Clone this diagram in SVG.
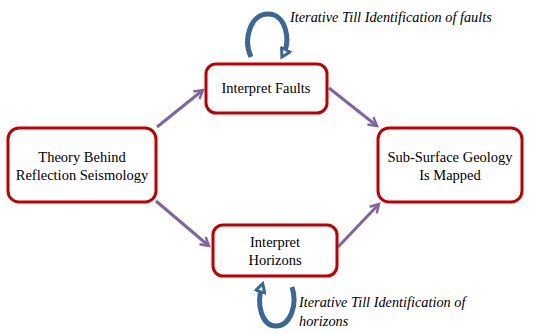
<svg xmlns="http://www.w3.org/2000/svg" width="533" height="333" viewBox="0 0 533 333">
<style>
.box{fill:#fff;stroke:#c00000;stroke-width:3}
.t{font-family:'Liberation Serif',serif;font-size:14.5px;fill:#000;text-anchor:middle}
.it{font-family:'Liberation Serif',serif;font-size:14.3px;font-style:italic;fill:#000}
.c{fill:none;stroke:#8064a2;stroke-width:3}
.loop{fill:none;stroke:#3b6796;stroke-width:5}
</style>
<defs>
<marker id="ah" viewBox="0 0 10 10" refX="8" refY="5" markerWidth="4" markerHeight="4" orient="auto" markerUnits="strokeWidth">
<path d="M1 1 L8 5 L1 9" fill="none" stroke="#8064a2" stroke-width="2"/>
</marker>
<marker id="bh" viewBox="0 0 10 10" refX="6" refY="5" markerWidth="2.4" markerHeight="2.4" orient="auto" markerUnits="strokeWidth">
<path d="M1 1 L8 5 L1 9 Z" fill="#fff" stroke="#3b6796" stroke-width="2.5"/>
</marker>
</defs>
<rect width="533" height="333" fill="#fff"/>
<g id="connectors">
<line class="c" x1="157" y1="127" x2="203" y2="90" marker-end="url(#ah)"/>
<line class="c" x1="329" y1="88" x2="377" y2="126" marker-end="url(#ah)"/>
<line class="c" x1="156" y1="201" x2="209" y2="246" marker-end="url(#ah)"/>
<line class="c" x1="338" y1="247" x2="379" y2="204" marker-end="url(#ah)"/>
<path class="loop" d="M251 57 C243 40,250 14,268 14 C286 14,291 40,283 55" marker-end="url(#bh)"/>
<path class="loop" d="M292 287 C298 305,290 326,276 326 C262 326,256 305,262 286" marker-end="url(#bh)"/>
</g>
<g id="theory">
<rect class="box" x="8" y="128" width="148" height="74" rx="11"/>
<text class="t" x="82" y="162" font-family="Liberation Serif">Theory Behind</text>
<text class="t" x="82" y="180" font-family="Liberation Serif">Reflection Seismology</text>
</g>
<g id="faults">
<rect class="box" x="206" y="64" width="121" height="49" rx="10"/>
<text class="t" x="266" y="93" font-family="Liberation Serif">Interpret Faults</text>
</g>
<g id="horizons">
<rect class="box" x="213" y="225" width="124" height="51" rx="10"/>
<text class="t" x="275" y="247" font-family="Liberation Serif">Interpret</text>
<text class="t" x="275" y="265" font-family="Liberation Serif">Horizons</text>
</g>
<g id="mapped">
<rect class="box" x="378" y="128" width="144" height="74" rx="11"/>
<text class="t" x="450" y="162" font-family="Liberation Serif">Sub-Surface Geology</text>
<text class="t" x="450" y="180" font-family="Liberation Serif">Is Mapped</text>
</g>
<g id="labels">
<text class="it" x="290" y="22" font-family="Liberation Serif">Iterative Till Identification of faults</text>
<text class="it" x="299" y="307" font-family="Liberation Serif">Iterative Till Identification of</text>
<text class="it" x="299" y="326" font-family="Liberation Serif">horizons</text>
</g>
</svg>
